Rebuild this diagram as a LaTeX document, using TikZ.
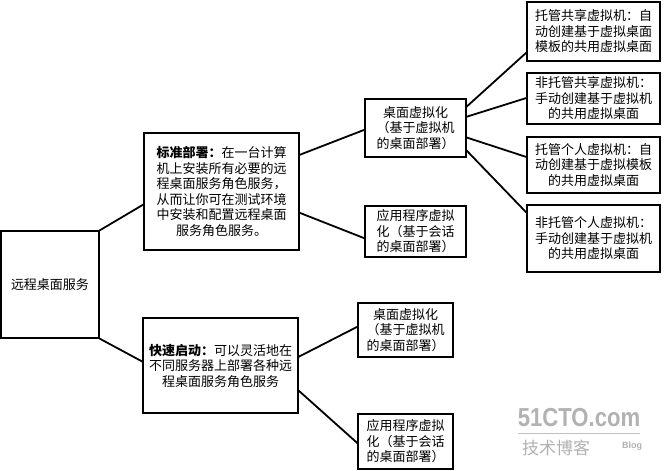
\documentclass[tikz,border=0pt]{standalone}
\usepackage{fontspec}
\setmainfont{Noto Sans CJK SC}
\newfontfamily\wmfont{Liberation Sans}
\usetikzlibrary{calc}
\tikzset{
  box/.style={draw, line width=1.1pt, align=center, inner sep=0pt, font=\fontsize{13}{15.5}\selectfont},
  link/.style={line width=1.8pt},
  wm/.style={text=black!30, inner sep=0pt}
}
\begin{document}
\begin{tikzpicture}[x=1pt,y=-1pt]
\useasboundingbox[fill=white] (0,0) rectangle (667,471);
\node[box, minimum width=98pt, minimum height=107pt] (root) at (50,284.5) {远程桌面服务};
\node[box, minimum width=155pt, minimum height=117pt] (std) at (221.5,191.5) {\textbf{标准部署：}在一台计算\\机上安装所有必要的远\\程桌面服务角色服务，\\从而让你可在测试环境\\中安装和配置远程桌面\\服务角色服务。};
\node[box, minimum width=155pt, minimum height=95pt] (quick) at (220.5,365.5) {\textbf{快速启动：}可以灵活地在\\不同服务器上部署各种远\\程桌面服务角色服务};
\node[box, minimum width=101pt, minimum height=58pt] (dv1) at (415.5,128) {桌面虚拟化\\（基于虚拟机\\的桌面部署）};
\node[box, minimum width=101pt, minimum height=51pt] (av1) at (415.5,231.5) {应用程序虚拟\\化（基于会话\\的桌面部署）};
\node[box, minimum width=95pt, minimum height=54pt] (dv2) at (405.5,330) {桌面虚拟化\\（基于虚拟机\\的桌面部署）};
\node[box, minimum width=95pt, minimum height=55pt] (av2) at (405.5,441.5) {应用程序虚拟\\化（基于会话\\的桌面部署）};
\node[box, minimum width=133pt, minimum height=59pt] (r1) at (593.5,31.5) {托管共享虚拟机：自\\动创建基于虚拟桌面\\模板的共用虚拟桌面};
\node[box, minimum width=133pt, minimum height=51pt] (r2) at (593.5,98.5) {非托管共享虚拟机：\\手动创建基于虚拟机\\的共用虚拟桌面};
\node[box, minimum width=133pt, minimum height=56pt] (r3) at (593.5,165) {托管个人虚拟机：自\\动创建基于虚拟模板\\的共用虚拟桌面};
\node[box, minimum width=133pt, minimum height=67pt] (r4) at (593.5,238.5) {非托管个人虚拟机：\\手动创建基于虚拟机\\的共用虚拟桌面};
% connectors
\draw[link] (root.north east) -- ($(std.north west)!0.61!(std.south west)$);
\draw[link] (root.south east) -- ($(quick.north west)!0.46!(quick.south west)$);
\draw[link] ($(std.north east)!0.19!(std.south east)$) -- ($(dv1.north west)!0.53!(dv1.south west)$);
\draw[link] ($(std.north east)!0.68!(std.south east)$) -- ($(av1.north west)!0.63!(av1.south west)$);
\draw[link] ($(dv1.north east)!0.14!(dv1.south east)$) -- ($(r1.north west)!0.85!(r1.south west)$);
\draw[link] ($(dv1.north east)!0.31!(dv1.south east)$) -- ($(r2.north west)!0.49!(r2.south west)$);
\draw[link] ($(dv1.north east)!0.66!(dv1.south east)$) -- ($(r3.north west)!0.36!(r3.south west)$);
\draw[link] ($(dv1.north east)!0.88!(dv1.south east)$) -- ($(r4.north west)!0.12!(r4.south west)$);
\draw[link] ($(quick.north east)!0.41!(quick.south east)$) -- ($(dv2.north west)!0.44!(dv2.south west)$);
\draw[link] ($(quick.north east)!0.76!(quick.south east)$) -- ($(av2.north west)!0.53!(av2.south west)$);
% watermark
\node[wm, font=\wmfont\bfseries\fontsize{26}{26}\selectfont, xscale=0.85] (wm1) at (579,418) {51CTO.com};
\coordinate (wl) at (518,433);
\coordinate (wr) at (640,433);
\draw[black!25, line width=0.8pt] (wl) -- (wr);
\node[wm, font=\fontsize{17}{17}\selectfont] (wm2) at (556,448) {技术博客};
\node[wm, font=\wmfont\bfseries\fontsize{9}{9}\selectfont] (wm3) at (632,446) {Blog};
\end{tikzpicture}
\end{document}
